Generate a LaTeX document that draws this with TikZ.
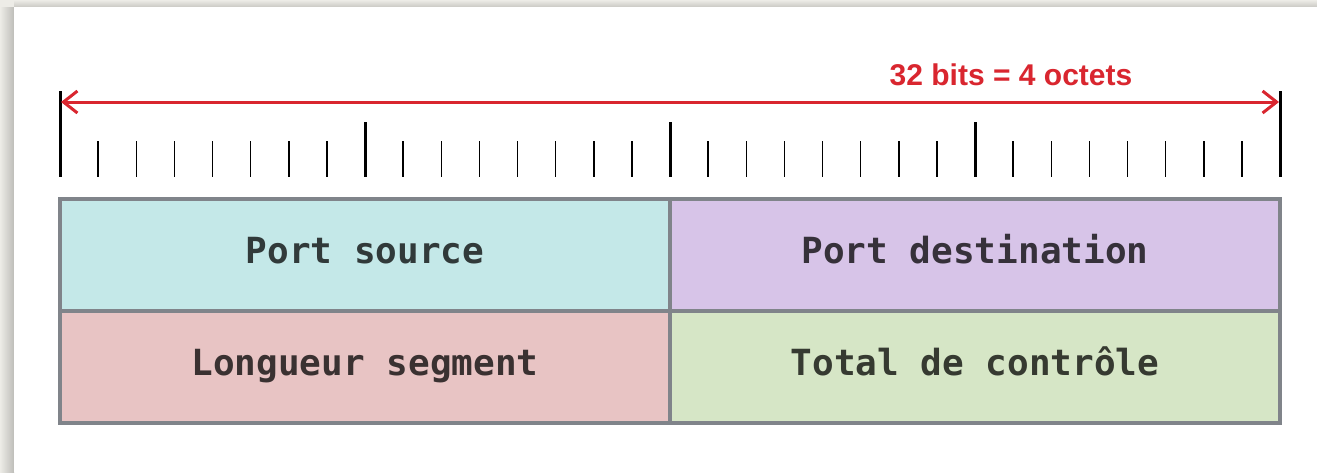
\documentclass[tikz,border=0pt]{standalone}
\usepackage{fontspec}
\usetikzlibrary{arrows.meta, positioning}
\newfontfamily\fieldfont{DejaVu Sans Mono}
\newfontfamily\labelfont{Liberation Sans}

\definecolor{pagebg}{HTML}{EDECE7}
\definecolor{edgegray}{HTML}{80848A}
\definecolor{rulered}{HTML}{D9262F}
\definecolor{cyanbox}{HTML}{C4E8E8}
\definecolor{purplebox}{HTML}{D7C4E8}
\definecolor{pinkbox}{HTML}{E8C4C4}
\definecolor{greenbox}{HTML}{D6E6C6}

\begin{document}
\begin{tikzpicture}[
x=0.5pt, y=-0.5pt,
field/.style={draw=edgegray, line width=1.6pt, rectangle, outer sep=0pt, anchor=north west,
  minimum width=305pt, minimum height=56pt, text height=0.9em, text depth=0.1em,
  font=\fieldfont\bfseries\fontsize{18}{20}\selectfont},
bigtick/.style={line width=1.5pt},
smalltick/.style={line width=0.75pt},
span/.style={<->, rulered, line width=1.5pt, >={Straight Barb[length=7pt, width=11pt]}}
]

% page and card
\useasboundingbox (0,0) rectangle (1317,472);
\fill[pagebg] (0,0) rectangle (1317,472);
\shade[left color=pagebg, right color=pagebg!80!black] (0,7) rectangle (14,472);
\shade[top color=pagebg, bottom color=pagebg!85!black] (14,0) rectangle (1317,7);
\fill[white] (14,7) rectangle (1317,472);

% header fields
\node[field, fill=cyanbox, text=cyanbox!25!black] (src) at (60,199) {Port source};
\node[field, fill=purplebox, text=purplebox!25!black] (dst) [right=0pt of src] {Port destination};
\node[field, fill=pinkbox, text=pinkbox!25!black] (len) [below=0pt of src] {Longueur segment};
\node[field, fill=greenbox, text=greenbox!25!black] (sum) [below=0pt of dst] {Total de contr\^ole};

% bit ruler
\foreach \i in {1,...,31} {
  \pgfmathtruncatemacro{\isbyte}{mod(\i,8)==0}
  \ifnum\isbyte=1
    \draw[bigtick] ({60+38.125*\i},122) -- ({60+38.125*\i},177);
  \else
    \draw[smalltick] ({60+38.125*\i},141) -- ({60+38.125*\i},177);
  \fi
}
\coordinate (start) at (60,91);
\coordinate (stop) at (1280,91);
\draw[bigtick] (start) -- ++(0,86);
\draw[bigtick] (stop) -- ++(0,86);

\coordinate (left) at (61,102);
\coordinate (right) at (1279,102);
\draw[span] (left) -- (right);
\node[text=rulered, font=\labelfont\bfseries\fontsize{15}{17}\selectfont] (width) at (1011,75) {32 bits = 4 octets};

\end{tikzpicture}
\end{document}
